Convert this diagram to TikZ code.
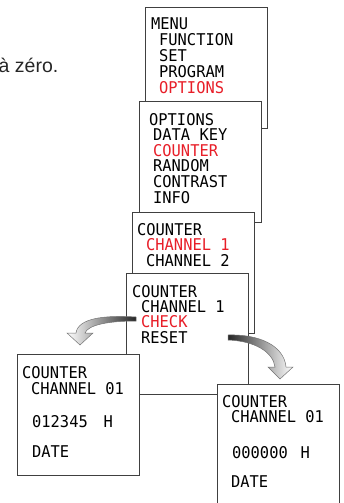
\documentclass[tikz,border=0pt]{standalone}
\usepackage{fontspec}
\setmainfont{Liberation Sans}
\newfontfamily\lcdfont[FakeStretch=0.95]{DejaVu Sans Mono}
\usepackage{xcolor}
\usetikzlibrary{positioning}
\definecolor{lcdred}{RGB}{232,30,40}

\begin{document}
\begin{tikzpicture}[
        x=1pt, y=-1pt,
        screen/.style={rectangle, draw=black!75, line width=0.8pt, fill=white, anchor=north west, inner sep=0pt, minimum width=122pt, minimum height=121pt},
        lcd/.style={anchor=base west, inner sep=0pt, text height=0.73em, text depth=0pt, font=\lcdfont\fontsize{16.2}{16}\selectfont},
        swoosh/.style={draw=black!55, line width=0.5pt}
    ]
    \useasboundingbox (0,0) rectangle (344,503);
    \clip (0,0) rectangle (344,503);

    % Text cut off on the left
    \node[anchor=base west, inner sep=0pt, font=\fontsize{19.5}{22}\selectfont, text=black!85] (intro) at (-1.5,72) {à zéro.};

    % --------------------------------------------------
    % MENU
    \node[screen] (menu) at (145,7) {};
    \node[lcd] (menu-0) at (151,30) {MENU};
    \foreach \txt/\col [count=\i] in {FUNCTION/black, SET/black, PROGRAM/black, OPTIONS/lcdred} {
        \node[lcd, text=\col] (menu-\i) at (159, 30+15.75*\i) {\txt};
    }

    % --------------------------------------------------
    % OPTIONS
    \node[screen] (opt) at (139,101) {};
    \node[lcd] (opt-0) at (149,125) {OPTIONS};
    \foreach \txt/\col [count=\i] in {DATA KEY/black, COUNTER/lcdred, RANDOM/black, CONTRAST/black, INFO/black} {
        \node[lcd, text=\col] (opt-\i) at (153, 125+15.6*\i) {\txt};
    }

    % --------------------------------------------------
    % COUNTER -> channel
    \node[screen] (chan) at (132,212) {};
    \node[lcd] (chan-0) at (137,235) {COUNTER};
    \foreach \txt/\col [count=\i] in {CHANNEL 1/lcdred, CHANNEL 2/black} {
        \node[lcd, text=\col] (chan-\i) at (146, 235+15.5*\i) {\txt};
    }

    % --------------------------------------------------
    % COUNTER -> CHANNEL 1
    \node[screen] (cnt) at (126,273) {};
    \node[lcd] (cnt-0) at (132,297) {COUNTER};
    \foreach \txt/\col [count=\i] in {CHANNEL 1/black, CHECK/lcdred, RESET/black} {
        \node[lcd, text=\col] (cnt-\i) at (141, 297+15.4*\i) {\txt};
    }

    % --------------------------------------------------
    % CHECK result
    \node[screen] (chk) at (17,354) {};
    \node[lcd] (chk-0) at (22,378.5) {COUNTER};
    \node[lcd] (chk-1) at (31,394) {CHANNEL 01};
    \node[lcd] (chk-2) at (32,427) {012345};
    \node[lcd] (chk-3) at (103.5,427) {H};
    \node[lcd] (chk-4) at (32,457) {DATE};

    % --------------------------------------------------
    % RESET result
    \node[screen, minimum height=130pt] (rst) at (217,384) {};
    \node[lcd] (rst-0) at (222,407) {COUNTER};
    \node[lcd] (rst-1) at (231,422.5) {CHANNEL 01};
    \node[lcd] (rst-2) at (232,458) {000000};
    \node[lcd] (rst-3) at (300.5,458) {H};
    \node[lcd] (rst-4) at (231,487) {DATE};

    % Curved arrows
    \shadedraw[swoosh, left color=white, right color=black!85]
        (136,317) .. controls (105,315) and (78,318) .. (76,333)
        -- (67,333) -- (80,345) -- (93,333) -- (85,333)
        .. controls (88,325) and (108,321) .. (136,321) -- cycle;
    \shadedraw[swoosh, left color=black!85, right color=white]
        (228,335) .. controls (258,334) and (284,345) .. (286,367)
        -- (293,367) -- (280,379) -- (268,367) -- (275,367)
        .. controls (273,352) and (255,341) .. (228,340) -- cycle;

\end{tikzpicture}
\end{document}
